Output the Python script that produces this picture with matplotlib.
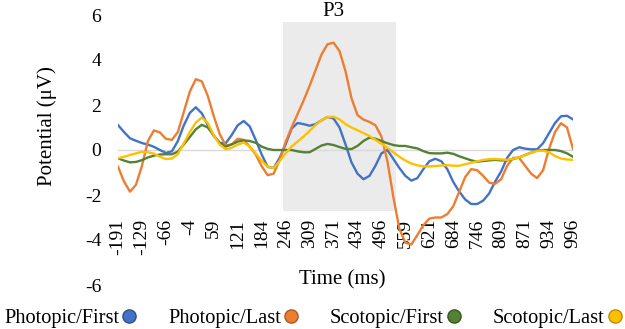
import numpy as np
import matplotlib
matplotlib.use("Agg")
import matplotlib.pyplot as plt
from matplotlib.lines import Line2D

plt.rcParams['font.family'] = ['Liberation Serif', 'DejaVu Serif']
plt.rcParams['axes.unicode_minus'] = False

# 时间轴 (ms), 每 15.625 ms 一个点
t0 = -191.4
step = 15.625
time_ms = t0 + step * np.arange(77)

xtick_labels = ["-191", "-129", "-66", "-4", "59", "121", "184", "246", "309", "371",
                "434", "496", "559", "621", "684", "746", "809", "871", "934", "996"]

photopic_first = [
    1.11, 0.80, 0.52, 0.41, 0.31, 0.24, 0.14, 0.00, -0.13, -0.06,
    0.40, 1.10, 1.65, 1.90, 1.63, 1.10, 0.62, 0.32, 0.30, 0.67,
    1.10, 1.29, 1.05, 0.45, -0.20, -0.75, -0.80, -0.35, 0.25, 0.95,
    1.20, 1.15, 1.08, 1.15, 1.32, 1.47, 1.40, 1.00, 0.25, -0.55,
    -1.05, -1.30, -1.15, -0.70, -0.15, 0.00, -0.40, -0.80, -1.15, -1.36,
    -1.25, -0.85, -0.50, -0.39, -0.50, -0.85, -1.42, -1.85, -2.20, -2.40,
    -2.40, -2.25, -1.93, -1.40, -0.95, -0.35, 0.00, 0.12, 0.06, 0.03,
    0.03, 0.30, 0.75, 1.20, 1.50, 1.52, 1.36]

photopic_last = [
    -0.74, -1.40, -1.85, -1.55, -0.70, 0.40, 0.87, 0.78, 0.50, 0.45,
    0.80, 1.70, 2.60, 3.15, 3.05, 2.40, 1.50, 0.70, 0.20, 0.25,
    0.50, 0.45, 0.15, -0.20, -0.72, -1.12, -1.05, -0.45, 0.35, 1.00,
    1.60, 2.20, 2.85, 3.55, 4.25, 4.70, 4.77, 4.40, 3.50, 2.30,
    1.55, 1.35, 1.25, 1.10, 0.60, -0.50, -2.10, -3.50, -4.12, -4.20,
    -3.78, -3.35, -3.05, -3.00, -3.00, -2.85, -2.50, -1.85, -1.20, -0.85,
    -0.90, -1.15, -1.45, -1.50, -1.30, -0.70, -0.35, -0.35, -0.70, -1.05,
    -1.25, -0.90, 0.05, 0.80, 1.19, 1.00, 0.05]

scotopic_first = [
    -0.37, -0.47, -0.55, -0.53, -0.45, -0.33, -0.25, -0.20, -0.19, -0.19,
    -0.07, 0.25, 0.58, 0.92, 1.12, 1.00, 0.65, 0.30, 0.15, 0.25,
    0.37, 0.43, 0.40, 0.32, 0.15, 0.05, 0.00, 0.00, 0.00, 0.00,
    -0.06, -0.10, -0.10, 0.05, 0.20, 0.27, 0.22, 0.13, 0.05, 0.04,
    0.18, 0.40, 0.55, 0.50, 0.40, 0.30, 0.22, 0.18, 0.18, 0.12,
    0.07, -0.05, -0.14, -0.15, -0.15, -0.12, -0.17, -0.28, -0.37, -0.46,
    -0.52, -0.49, -0.46, -0.44, -0.46, -0.46, -0.40, -0.33, -0.22, -0.12,
    -0.03, 0.00, 0.00, 0.00, -0.05, -0.15, -0.30]

scotopic_last = [
    -0.37, -0.30, -0.22, -0.15, -0.08, -0.10, -0.16, -0.30, -0.40, -0.38,
    -0.18, 0.30, 0.80, 1.22, 1.44, 1.20, 0.65, 0.24, 0.03, 0.10,
    0.24, 0.33, 0.15, -0.15, -0.48, -0.74, -0.80, -0.50, -0.14, 0.15,
    0.38, 0.60, 0.85, 1.11, 1.33, 1.46, 1.48, 1.36, 1.15, 1.00,
    0.88, 0.75, 0.62, 0.45, 0.28, 0.10, -0.10, -0.30, -0.47, -0.60,
    -0.68, -0.73, -0.73, -0.71, -0.69, -0.67, -0.70, -0.70, -0.63, -0.57,
    -0.50, -0.44, -0.41, -0.40, -0.42, -0.44, -0.39, -0.33, -0.23, -0.12,
    -0.04, -0.03, -0.10, -0.27, -0.38, -0.42, -0.44]

names = ["Photopic/First", "Photopic/Last", "Scotopic/First", "Scotopic/Last"]
colors = ["#4472C4", "#ED7D31", "#548235", "#FFC000"]
edges = ["#2F528F", "#AE5A21", "#385723", "#BC8C00"]

p3_window = (240, 534)      # ms
p3_range = (-2.71, 5.69)    # uV

fig = plt.figure(figsize=(6.25, 3.29), dpi=100)
ax = fig.add_axes([118 / 625, 44 / 329, 455 / 625, 270 / 329])

ax.fill_between(p3_window, p3_range[0], p3_range[1], color="#ebebeb", lw=0, zorder=0)
ax.text(np.mean(p3_window) - 17, p3_range[1] + 0.05, "P3", ha="center", va="bottom", fontsize=15)
ax.axhline(0, color="#d9d9d9", lw=1, zorder=1)

series = [photopic_first, photopic_last, scotopic_first, scotopic_last]
for s, c in zip(series, colors):
    ax.plot(time_ms, s, color=c, lw=1.7, zorder=2)

ax.set_xlim(time_ms[0], time_ms[-1])
ax.set_ylim(-6, 6)
ax.set_yticks(np.arange(-6, 7, 2))
ax.set_xticks(time_ms[::4])
ax.set_xticklabels(xtick_labels)
for sp in ax.spines.values():
    sp.set_visible(False)
ax.spines['bottom'].set_position(('data', -3.0))
ax.tick_params(axis='x', length=0, pad=1, labelsize=14, labelrotation=90)
ax.tick_params(axis='y', length=0, pad=12, labelsize=14)

ax.set_xlabel("Time (ms)", fontsize=15)
ax.xaxis.set_label_coords(0.492, 0.056)
ax.set_ylabel("Potential (μV)", fontsize=15)
ax.yaxis.set_label_coords(-0.135, 0.59)

handles = [Line2D([], [], ls='none', marker='o', markersize=9.5, markerfacecolor=c,
                  markeredgecolor=e, markeredgewidth=1) for c, e in zip(colors, edges)]
fig.legend(handles, names, loc='center left', bbox_to_anchor=(4 / 625, 1 - 318 / 329),
           ncol=4, frameon=False, markerfirst=False, fontsize=14.7, borderpad=0,
           borderaxespad=0, handlelength=0.6, handletextpad=0.2, columnspacing=1.6)

fig.savefig("out.png", dpi=100)
